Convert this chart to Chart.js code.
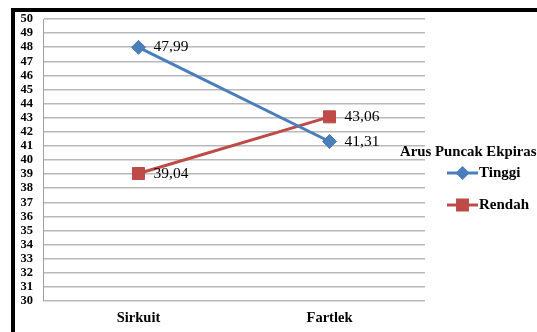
<!DOCTYPE html>
<html><head><meta charset="utf-8">
<script src="https://cdn.jsdelivr.net/npm/chart.js@4/dist/chart.umd.min.js"></script>
<style>
html,body{margin:0;padding:0;background:#fff;}
#wrap{position:relative;width:537px;height:332px;}
#frame{position:absolute;left:11px;top:8px;width:540px;height:320px;border-left:4px solid #000;border-top:4px solid #000;border-bottom:4px solid #000;pointer-events:none;}
</style></head><body>
<div id="wrap"><canvas id="c" width="537" height="332"></canvas><div id="frame"></div></div>
<script>
const categories = ["Sirkuit", "Fartlek"];
const tinggi = [47.99, 41.31];
const rendah = [39.04, 43.06];
const tinggiLabels = ["47,99", "41,31"];
const rendahLabels = ["39,04", "43,06"];
const legendTitle = "Arus Puncak Ekpiras";
const seriesNames = ["Tinggi", "Rendah"];
const yMin = 30, yMax = 50, yStep = 1;

const BLUE = "#4A7EBB", RED = "#BE4B48";
const SERIF = "'Liberation Serif','Times New Roman',serif";

const labelPlugin = {
  id: "labels",
  afterDatasetsDraw(chart) {
    const ctx = chart.ctx;
    ctx.save();
    ctx.font = "15.5px " + SERIF;
    ctx.fillStyle = "#000";
    ctx.textAlign = "left";
    ctx.textBaseline = "middle";
    const lbls = [tinggiLabels, rendahLabels];
    chart.data.datasets.forEach((ds, i) => {
      chart.getDatasetMeta(i).data.forEach((pt, j) => {
        ctx.fillText(lbls[i][j], pt.x + 15, pt.y);
      });
    });
    // legend
    ctx.font = "bold 14.8px " + SERIF;
    ctx.fillText(legendTitle, 400, 152);
    const items = [{c: BLUE, s: "rectRot", r: 5, y: 173}, {c: RED, s: "rect", r: 7, y: 205}];
    items.forEach((it, k) => {
      ctx.strokeStyle = it.c; ctx.lineWidth = 3;
      ctx.beginPath(); ctx.moveTo(447, it.y); ctx.lineTo(478, it.y); ctx.stroke();
      ctx.fillStyle = it.c; ctx.strokeStyle = it.c;
      Chart.helpers.drawPoint(ctx, {pointStyle: it.s, radius: it.r, borderWidth: 1}, 462.5, it.y);
      ctx.fillStyle = "#000";
      ctx.font = "bold 15px " + SERIF;
      ctx.fillText(seriesNames[k], 479, it.y);
    });
    ctx.restore();
  }
};

new Chart(document.getElementById("c"), {
  type: "line",
  data: {
    labels: categories,
    datasets: [
      {label: seriesNames[0], data: tinggi, borderColor: BLUE, backgroundColor: BLUE, borderWidth: 3,
       pointStyle: "rectRot", pointRadius: 7, pointBorderWidth: 1},
      {label: seriesNames[1], data: rendah, borderColor: RED, backgroundColor: RED, borderWidth: 3,
       pointStyle: "rect", pointRadius: 8.5, pointBorderWidth: 1}
    ]
  },
  options: {
    animation: false, responsive: false, events: [],
    layout: {padding: {left: 0, top: 19, right: 112, bottom: 0}},
    plugins: {legend: {display: false}, tooltip: {enabled: false}},
    scales: {
      x: {
        offset: true,
        grid: {display: false, drawTicks: false},
        border: {display: false},
        ticks: {padding: 9, color: "#000", font: {family: SERIF, size: 14.5, weight: "bold"}},
        afterFit(s) { s.height = 31; }
      },
      y: {
        min: yMin, max: yMax,
        ticks: {stepSize: yStep, autoSkip: false, padding: 10, color: "#000", font: {family: SERIF, size: 12.5, weight: "bold"}},
        grid: {color: "#b8b8b8", lineWidth: 1.5, drawTicks: false},
        border: {display: true, color: "#a0a0a0", width: 1},
        afterFit(s) { s.width = 43; }
      }
    }
  },
  plugins: [labelPlugin]
});
</script>
</body></html>
